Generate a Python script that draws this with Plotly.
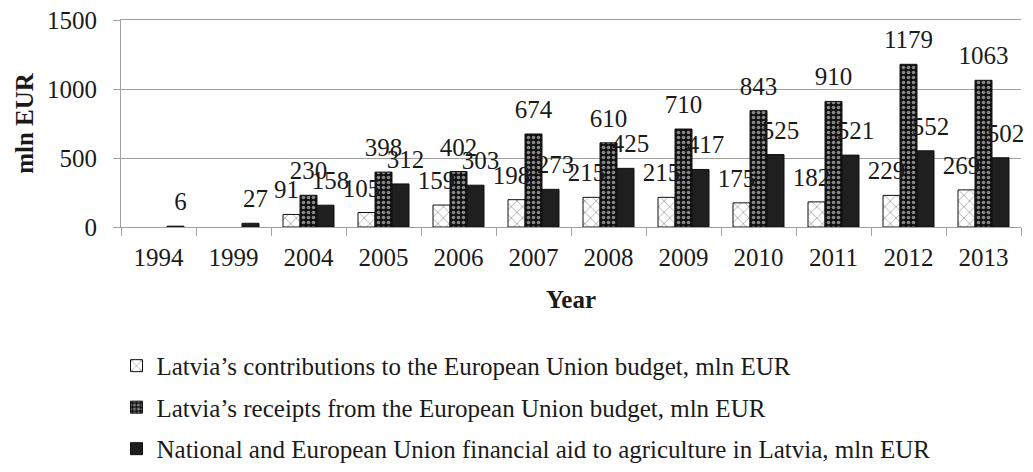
import plotly.graph_objects as go

years = ["1994", "1999", "2004", "2005", "2006", "2007", "2008", "2009", "2010", "2011", "2012", "2013"]
contributions = [None, None, 91, 105, 159, 198, 215, 215, 175, 182, 229, 269]
receipts = [None, None, 230, 398, 402, 674, 610, 710, 843, 910, 1179, 1063]
agri_aid = [6, 27, 158, 312, 303, 273, 425, 417, 525, 521, 552, 502]

names = [
    "Latvia’s contributions to the European Union budget, mln EUR",
    "Latvia’s receipts from the European Union budget, mln EUR",
    "National and European Union financial aid to agriculture in Latvia, mln EUR",
]

FONT = "Liberation Serif, Times New Roman, serif"
TXT = "#1a1a1a"
GRID = "#a0a0a0"
YMAX = 1500

series = [contributions, receipts, agri_aid]
markers = [
    dict(color="white", line=dict(color="#111", width=1),
         pattern=dict(shape="x", fgcolor="#111", bgcolor="white", size=8, solidity=0.15)),
    dict(color="#111", line=dict(color="#111", width=1),
         pattern=dict(shape=".", fgcolor="white", bgcolor="#111", size=5, solidity=0.4)),
    dict(color="#1f1f1f", line=dict(color="#111", width=1)),
]

fig = go.Figure()
for i, (vals, nm, mk) in enumerate(zip(series, names, markers)):
    fig.add_trace(go.Bar(
        x=years, y=vals, name=nm, legendgroup=f"g{i}",
        offsetgroup=str(i), marker=mk, hoverinfo="skip",
    ))
# value labels on an overlaying subplot so they are drawn above all bars
for i, vals in enumerate(series):
    fig.add_trace(go.Scatter(
        x=years, y=vals, mode="markers+text", xaxis="x2", yaxis="y2",
        text=["" if v is None else str(v) for v in vals],
        textposition="top center", cliponaxis=False,
        offsetgroup=str(i),
        marker=dict(size=14, color="rgba(0,0,0,0)"),
        textfont=dict(family=FONT, size=25, color=TXT),
        showlegend=False, hoverinfo="skip",
    ))

fig.update_layout(
    width=1025, height=464,
    margin=dict(l=113, r=12, t=12, b=245, autoexpand=False),
    paper_bgcolor="white", plot_bgcolor="white",
    font=dict(family=FONT, size=25, color=TXT),
    barmode="group", bargap=0.32, bargroupgap=0,
    scattermode="group", scattergap=0.12,
    showlegend=True,
    legend=dict(
        orientation="v", x=-0.005, xanchor="left", y=-0.56, yanchor="top",
        font=dict(family=FONT, size=25, color=TXT),
        traceorder="grouped", tracegroupgap=6,
        itemwidth=30,
    ),
    xaxis=dict(
        type="category", categoryorder="array", categoryarray=years,
        showline=True, mirror=True, linecolor=GRID, linewidth=1,
        ticks="outside", tickson="boundaries", ticklen=8, tickcolor=GRID,
        ticklabelstandoff=8, automargin=False, ticklabeloverflow="allow",
        tickfont=dict(family=FONT, size=25, color=TXT),
        title=dict(text="<b>Year</b>", font=dict(family=FONT, size=25, color=TXT), standoff=20),
        showgrid=False,
    ),
    yaxis=dict(
        range=[0, YMAX], dtick=500,
        showline=True, linecolor=GRID, linewidth=1,
        ticks="outside", ticklen=7, tickcolor=GRID, ticklabelstandoff=11,
        ticklabeloverflow="allow",
        showgrid=True, gridcolor=GRID, gridwidth=1, zeroline=False, automargin=False,
        tickfont=dict(family=FONT, size=25, color=TXT),
        title=dict(text="<b>mln EUR</b>", font=dict(family=FONT, size=25, color=TXT), standoff=6),
    ),
    xaxis2=dict(
        type="category", categoryorder="array", categoryarray=years,
        overlaying="x", matches="x", visible=False,
    ),
    yaxis2=dict(
        range=[0, YMAX], overlaying="y", visible=False,
    ),
)

fig.write_html("out.html")
